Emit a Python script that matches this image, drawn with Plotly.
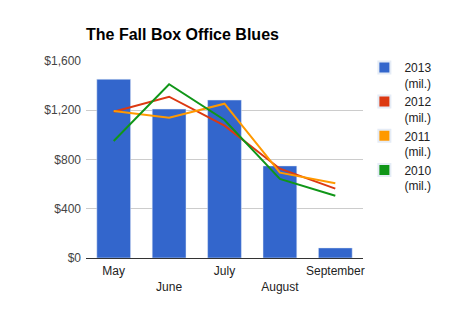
import plotly.graph_objects as go

months = ["May", "June", "July", "August", "September"]
tick_labels = ["May", "<br>June", "July", "<br>August", "September"]
y2013 = [1452, 1210, 1283, 748, 82]
y2012 = [1188, 1310, 1075, 725, 563]
y2011 = [1194, 1140, 1253, 693, 607]
y2010 = [950, 1411, 1121, 642, 506]
y_ticks = [0, 400, 800, 1200, 1600]
y_tick_text = ["$" + format(v, ",") for v in y_ticks]

names = ["2013<br>(mil.)", "2012<br>(mil.)", "2011<br>(mil.)", "2010<br>(mil.)"]
colors = ["#3366cc", "#dc3912", "#ff9900", "#109618"]

fig = go.Figure()
fig.add_trace(go.Bar(x=months, y=y2013, name=names[0], marker_color=colors[0],
                     legendgroup="g0"))
for ys, nm, c in zip([y2012, y2011, y2010], names[1:], colors[1:]):
    fig.add_trace(go.Scatter(x=months, y=ys, name=nm, mode="lines",
                             line=dict(color=c, width=2), showlegend=False))
# legend-only square swatches for the line series
for i, (nm, c) in enumerate(zip(names[1:], colors[1:])):
    fig.add_trace(go.Bar(x=[months[0]], y=[None], name=nm, marker_color=c,
                         legendgroup="g%d" % (i + 1)))

fig.update_layout(
    width=450, height=320,
    margin=dict(l=86, r=87, t=61, b=62),
    paper_bgcolor="white", plot_bgcolor="white",
    font=dict(family="Liberation Sans, Arial, sans-serif", size=12, color="#444"),
    title=dict(text="<b>The Fall Box Office Blues</b>", x=86/450, xanchor="left",
               y=1-34/320, yanchor="middle",
               font=dict(size=16, color="#000")),
    barmode="overlay",
    bargap=0.39,
    legend=dict(x=1.005, xanchor="left", y=1.04, yanchor="top", valign="top",
                font=dict(size=12, color="#222"), tracegroupgap=2,
                itemsizing="constant", traceorder="normal"),
    xaxis=dict(tickmode="array", tickvals=months, ticktext=tick_labels,
               showgrid=False, showline=False, ticks="",
               tickfont=dict(size=12, color="#222"), ticklabelstandoff=4),
    yaxis=dict(range=[0, 1600], tickmode="array", tickvals=y_ticks, ticktext=y_tick_text,
               gridcolor="#cccccc", zeroline=True, zerolinecolor="#333333",
               zerolinewidth=1, ticks="", tickfont=dict(size=12, color="#444"),
               ticklabelstandoff=4),
)
fig.write_html("out.html")
